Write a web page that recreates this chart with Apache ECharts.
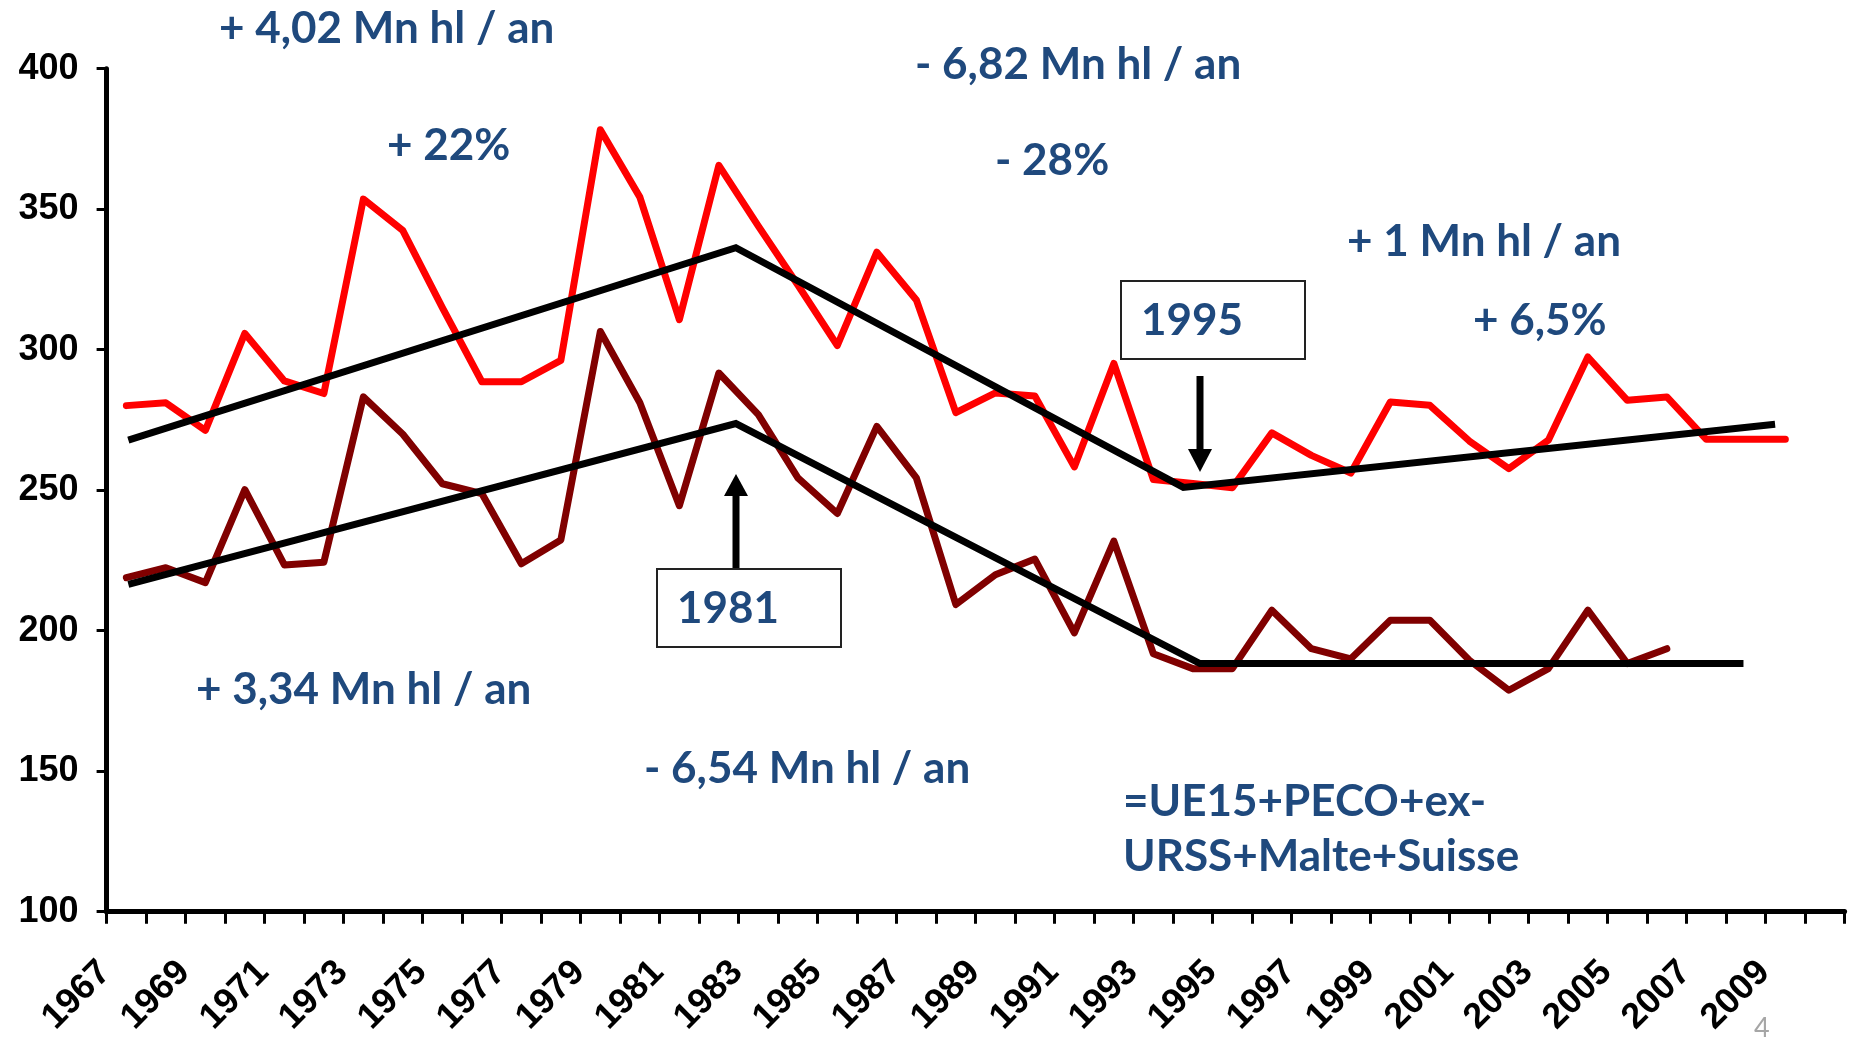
<!DOCTYPE html>
<html>
<head>
<meta charset="utf-8">
<script src="https://cdn.jsdelivr.net/npm/echarts@6/dist/echarts.min.js"></script>
<style>
html,body{margin:0;padding:0;background:#fff;}
#chart{width:1858px;height:1039px;}
</style>
</head>
<body>
<div id="chart"></div>
<script>
// ---- data ----
const years = ['1967','1968','1969','1970','1971','1972','1973','1974','1975','1976','1977','1978','1979','1980','1981','1982','1983','1984','1985','1986','1987','1988','1989','1990','1991','1992','1993','1994','1995','1996','1997','1998','1999','2000','2001','2002','2003','2004','2005','2006','2007','2008','2009','2010'];
const seriesUpper = [280.1,281.1,271.3,305.8,288.9,284.4,353.6,342.4,315,288.6,288.6,296.2,378.3,354.3,310.7,365.6,344,323,301.5,334.7,317.7,277.6,284.6,283.5,258.3,295.1,253.8,252.4,250.9,270.4,262.4,256.1,281.4,280.2,267.5,257.7,267.8,297.4,282,283.2,268.1,268.1,268.1,null];
const seriesLower = [218.9,222.4,217.1,250.2,223.4,224.4,283.2,269.9,252.3,248.8,223.8,232.3,306.5,281.1,244.5,291.7,276.9,254.4,241.7,272.7,254.4,209.3,219.9,225.5,199.2,231.9,191.8,186.5,186.5,207.3,193.6,190,203.7,203.7,189.5,178.8,186.5,207.3,188.3,193.6,null,null,null,null];
// trend segments: [category position, value]
const trendUpper = [[0.05,267.8],[15.43,336.3],[26.76,251],[41.74,273.5]];
const trendLower = [[0.05,216.5],[15.43,273.7],[27.18,188.3],[40.94,188.3]];
const yTicks = {min:100, max:400, interval:50};

// ---- chart ----
const chart = echarts.init(document.getElementById('chart'));
const blue = '#1F497D';
const annSize = 44;
const annFont = 'bold ' + annSize + 'px Lato';
function txt(x, cy, s){
  return {type:'text', left:x, top:cy - 21, style:{text:s, font:annFont, fill:blue}, z:100};
}
function box(x, y, w, h, label){
  return {type:'group', left:x, top:y, z:100, children:[
    {type:'rect', shape:{x:0,y:0,width:w,height:h}, style:{fill:'#fff', stroke:'#222', lineWidth:2}},
    {type:'text', left:20, top:h/2 - 21, style:{text:label, font:annFont, fill:blue}}
  ]};
}
function arrowUp(x, tipY, baseY){
  return {type:'group', z:100, children:[
    {type:'line', shape:{x1:x, y1:baseY, x2:x, y2:tipY+20}, style:{stroke:'#000', lineWidth:7}},
    {type:'polygon', shape:{points:[[x, tipY],[x-12, tipY+22],[x+12, tipY+22]]}, style:{fill:'#000'}}
  ]};
}
function arrowDown(x, startY, tipY){
  return {type:'group', z:100, children:[
    {type:'line', shape:{x1:x, y1:startY, x2:x, y2:tipY-20}, style:{stroke:'#000', lineWidth:7}},
    {type:'polygon', shape:{points:[[x, tipY],[x-12, tipY-23],[x+12, tipY-23]]}, style:{fill:'#000'}}
  ]};
}

const option = {
  animation:false,
  backgroundColor:'#fff',
  grid:{left:106.6, right:13.4, top:68.7, bottom:127.3, containLabel:false},
  xAxis:[{
    type:'category', data:years, boundaryGap:true,
    axisLine:{show:true, onZero:false, lineStyle:{color:'#000', width:5}},
    axisTick:{show:true, interval:0, length:12, lineStyle:{color:'#000', width:3}},
    axisLabel:{interval:1, rotate:45, margin:34, padding:[0,30,0,0], color:'#000', fontFamily:'Liberation Sans, Arial', fontWeight:'bold', fontSize:36},
    splitLine:{show:false}
  },{
    type:'value', min:-0.5, max:43.5, show:false, splitLine:{show:false}
  }],
  yAxis:{
    type:'value', min:yTicks.min, max:yTicks.max, interval:yTicks.interval,
    axisLine:{show:true, onZero:false, lineStyle:{color:'#000', width:5}},
    axisTick:{show:true, length:10, lineStyle:{color:'#000', width:3}},
    axisLabel:{margin:28, color:'#000', fontFamily:'Liberation Sans, Arial', fontWeight:'bold', fontSize:36},
    splitLine:{show:false}
  },
  series:[
    {type:'line', data:seriesUpper, xAxisIndex:0, symbol:'none', lineStyle:{color:'#FF0000', width:7, cap:'round', join:'round'}, z:2},
    {type:'line', data:seriesLower, xAxisIndex:0, symbol:'none', lineStyle:{color:'#800000', width:7, cap:'round', join:'round'}, z:2},
    {type:'line', data:trendUpper, xAxisIndex:1, symbol:'none', lineStyle:{color:'#000', width:7, cap:'butt', join:'miter'}, z:3},
    {type:'line', data:trendLower, xAxisIndex:1, symbol:'none', lineStyle:{color:'#000', width:7, cap:'butt', join:'miter'}, z:3}
  ],
  graphic:[
    txt(219, 28, '+ 4,02 Mn hl / an'),
    txt(915, 64, '- 6,82 Mn hl / an'),
    txt(387, 145, '+ 22%'),
    txt(995, 160, '- 28%'),
    txt(1347, 241, '+ 1 Mn hl / an'),
    txt(1473, 320, '+ 6,5%'),
    txt(196, 689, '+ 3,34 Mn hl / an'),
    txt(644, 768, '- 6,54 Mn hl / an'),
    txt(1123, 801, '=UE15+PECO+ex-'),
    txt(1123, 856, 'URSS+Malte+Suisse'),
    box(1120, 280, 184, 78, '1995'),
    box(656, 568, 184, 78, '1981'),
    arrowUp(736, 474, 568),
    arrowDown(1200, 376, 472),
    {type:'text', left:1754, top:1015, style:{text:'4', font:'27px Lato', fill:'#a6a6a6'}, z:100}
  ]
};
chart.setOption(option);
</script>
</body>
</html>
